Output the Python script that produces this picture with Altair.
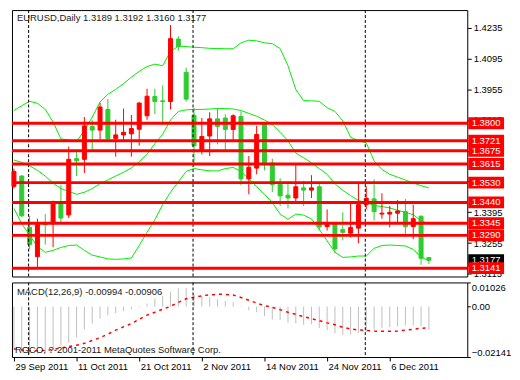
import altair as alt
import pandas as pd

# ---------------- data ----------------
open_ = [1.3513, 1.3560, 1.3326, 1.3193, 1.3343, 1.3343, 1.3434, 1.3383, 1.3639, 1.3636,
         1.3785, 1.3769, 1.3863, 1.3730, 1.3747, 1.3752, 1.3773, 1.3834, 1.3922, 1.3902,
         1.3899, 1.4183, 1.4032, 1.3836, 1.3672, 1.3742, 1.3820, 1.3824, 1.3772, 1.3831,
         1.3547, 1.3596, 1.3802, 1.3619, 1.3528, 1.3473, 1.3460, 1.3506, 1.3496, 1.3511,
         1.3330, 1.3343, 1.3316, 1.3300, 1.3323, 1.3430, 1.3456, 1.3387, 1.3387, 1.3391,
         1.3398, 1.3330, 1.3377, 1.3189]
high = [1.3594, 1.3564, 1.3378, 1.3366, 1.3387, 1.3448, 1.3521, 1.3694, 1.3677, 1.3828,
        1.3814, 1.3893, 1.3910, 1.3816, 1.3867, 1.3838, 1.3896, 1.3957, 1.3957, 1.3972,
        1.4247, 1.4196, 1.4053, 1.3871, 1.3824, 1.3850, 1.3866, 1.3841, 1.3841, 1.3853,
        1.3651, 1.3788, 1.3806, 1.3639, 1.3550, 1.3535, 1.3610, 1.3538, 1.3564, 1.3531,
        1.3408, 1.3348, 1.3395, 1.3434, 1.3525, 1.3513, 1.3545, 1.3482, 1.3424, 1.3451,
        1.3456, 1.3430, 1.3381, 1.3192]
low = [1.3503, 1.3374, 1.3226, 1.3145, 1.3248, 1.3236, 1.3352, 1.3369, 1.3560, 1.3574,
       1.3680, 1.3727, 1.3719, 1.3648, 1.3723, 1.3648, 1.3698, 1.3816, 1.3842, 1.3790,
       1.3863, 1.4130, 1.3899, 1.3604, 1.3658, 1.3651, 1.3704, 1.3672, 1.3723, 1.3518,
       1.3477, 1.3568, 1.3586, 1.3487, 1.3424, 1.3413, 1.3443, 1.3424, 1.3460, 1.3312,
       1.3312, 1.3210, 1.3268, 1.3280, 1.3254, 1.3409, 1.3357, 1.3366, 1.3326, 1.3340,
       1.3283, 1.3273, 1.3156, 1.3160]
close = [1.3581, 1.3379, 1.3249, 1.3340, 1.3338, 1.3441, 1.3369, 1.3636, 1.3629, 1.3788,
         1.3769, 1.3874, 1.3730, 1.3747, 1.3759, 1.3776, 1.3892, 1.3923, 1.3899, 1.3899,
         1.4185, 1.4149, 1.3910, 1.3698, 1.3740, 1.3820, 1.3786, 1.3772, 1.3834, 1.3547,
         1.3600, 1.3749, 1.3615, 1.3521, 1.3470, 1.3460, 1.3511, 1.3496, 1.3506, 1.3329,
         1.3340, 1.3228, 1.3304, 1.3326, 1.3430, 1.3459, 1.3398, 1.3391, 1.3395, 1.3401,
         1.3330, 1.3366, 1.3186, 1.3177]

bb_upper = [1.3858, 1.3880, 1.3900, 1.3891, 1.3863, 1.3806, 1.3729, 1.3724, 1.3716, 1.3768,
            1.3828, 1.3897, 1.3932, 1.3954, 1.3980, 1.4010, 1.4036, 1.4058, 1.4069, 1.4062,
            1.4127, 1.4151, 1.4149, 1.4146, 1.4144, 1.4141, 1.4140, 1.4139, 1.4139, 1.4166,
            1.4178, 1.4175, 1.4166, 1.4162, 1.4140, 1.4062, 1.3954, 1.3903, 1.3902, 1.3900,
            1.3871, 1.3854, 1.3811, 1.3737, 1.3720, 1.3711, 1.3629, 1.3590, 1.3568, 1.3555,
            1.3542, 1.3528, 1.3516, 1.3506]
bb_mid = [1.3633, 1.3622, 1.3607, 1.3586, 1.3560, 1.3527, 1.3503, 1.3490, 1.3477, 1.3486,
          1.3503, 1.3525, 1.3542, 1.3560, 1.3577, 1.3597, 1.3625, 1.3659, 1.3707, 1.3750,
          1.3815, 1.3854, 1.3861, 1.3863, 1.3863, 1.3865, 1.3867, 1.3867, 1.3865, 1.3858,
          1.3845, 1.3832, 1.3815, 1.3794, 1.3759, 1.3720, 1.3664, 1.3643, 1.3620, 1.3594,
          1.3568, 1.3525, 1.3495, 1.3471, 1.3449, 1.3439, 1.3426, 1.3421, 1.3415, 1.3404,
          1.3395, 1.3384, 1.3356, 1.3343]
bb_lower = [1.3413, 1.3343, 1.3291, 1.3239, 1.3213, 1.3222, 1.3235, 1.3244, 1.3246, 1.3222,
            1.3200, 1.3192, 1.3183, 1.3181, 1.3183, 1.3187, 1.3244, 1.3304, 1.3361, 1.3430,
            1.3486, 1.3534, 1.3581, 1.3594, 1.3588, 1.3584, 1.3583, 1.3594, 1.3599, 1.3581,
            1.3547, 1.3512, 1.3477, 1.3439, 1.3387, 1.3363, 1.3387, 1.3382, 1.3365, 1.3317,
            1.3265, 1.3213, 1.3190, 1.3192, 1.3196, 1.3196, 1.3231, 1.3244, 1.3246, 1.3244,
            1.3242, 1.3226, 1.3192, 1.3174]

macd_main = [-0.0180, -0.0192, -0.0200, -0.0203, -0.0196, -0.0182, -0.0166, -0.0154, -0.0131, -0.0097,
             -0.0072, -0.0051, -0.0037, -0.0028, -0.0019, -0.0011, -0.0004, 0.0013, 0.0034, 0.0046,
             0.0063, 0.0078, 0.0078, 0.0053, 0.0046, 0.0040, 0.0031, 0.0024, 0.0019, 0.0002,
             -0.0016, -0.0024, -0.0040, -0.0055, -0.0057, -0.0067, -0.0071, -0.0077, -0.0075, -0.0091,
             -0.0100, -0.0113, -0.0120, -0.0119, -0.0111, -0.0108, -0.0097, -0.0091, -0.0087, -0.0084,
             -0.0081, -0.0080, -0.0084, -0.00994]
macd_signal = [-0.0180, -0.0184, -0.0188, -0.0188, -0.0186, -0.0182, -0.0176, -0.0170, -0.0164, -0.0156,
               -0.0144, -0.0132, -0.0117, -0.0100, -0.0086, -0.0072, -0.0054, -0.0036, -0.0024, -0.0011,
               0.0001, 0.0018, 0.0033, 0.0040, 0.0046, 0.0050, 0.0052, 0.0052, 0.0049, 0.0039,
               0.0027, 0.0015, 0.0004, -0.0003, -0.0013, -0.0024, -0.0033, -0.0043, -0.0051, -0.0060,
               -0.0069, -0.0077, -0.0088, -0.0095, -0.0099, -0.0101, -0.0104, -0.0105, -0.0105, -0.0104,
               -0.0100, -0.0096, -0.0092, -0.00906]

levels = [1.3800, 1.3721, 1.3675, 1.3615, 1.3530, 1.3440, 1.3345, 1.3290, 1.3141]
price_ticks = [1.4235, 1.4095, 1.3955, 1.3815, 1.3675, 1.3535, 1.3395, 1.3255, 1.3115]
macd_ticks = [0.01026, 0.0, -0.02141]
date_tick_idx = [0, 8, 16, 24, 32, 40, 48]
date_tick_labels = ["29 Sep 2011", "11 Oct 2011", "21 Oct 2011", "2 Nov 2011",
                    "14 Nov 2011", "24 Nov 2011", "6 Dec 2011"]
month_start_idx = [2, 23, 45]
symbol = "EURUSD,Daily"
copyright_text = "RGCO, ?-2001-2011 MetaQuotes Software Corp."

# ---------------- layout / style ----------------
W, H1, H2 = 458, 268, 75
XDOM = [-0.25, 57.9]
PDOM = [1.3103, 1.4315]
MDOM = [-0.02141, 0.01026]
FONT = "Liberation Sans"
FS = 9.5
GREEN = "#2ecc2e"
RED = "#ff0000"
BAND = "#00ee00"
BOX = "M-1,-0.3333L1,-0.3333L1,0.3333L-1,0.3333Z"

n = len(close)
bars = pd.DataFrame({
    "i": list(range(n)), "open": open_, "high": high, "low": low, "close": close,
    "bbu": bb_upper, "bbm": bb_mid, "bbl": bb_lower,
    "macd": macd_main, "signal": macd_signal,
})
bars["dir"] = ["up" if c >= o else "down" for o, c in zip(open_, close)]
bars["zero"] = 0.0

levels_df = pd.DataFrame({"level": levels, "label": [f"{v:.4f}" for v in levels]})
cur_df = pd.DataFrame({"level": [close[-1]], "label": [f"{close[-1]:.4f}"]})
sep_df = pd.DataFrame({"sep": [s - 0.125 for s in month_start_idx]})
header_df = pd.DataFrame({"t": [f"{symbol}  {open_[-1]:.4f} {high[-1]:.4f} {low[-1]:.4f} {close[-1]:.4f}"]})
macd_hdr_df = pd.DataFrame({"t": [f"MACD(12,26,9) {macd_main[-1]:.5f} {macd_signal[-1]:.5f}"]})
copy_df = pd.DataFrame({"t": [copyright_text]})

xscale = alt.Scale(domain=XDOM, nice=False, zero=False, padding=0)


def X(f):
    return alt.X(f"{f}:Q", scale=xscale, axis=None, title=None)


date_expr = "".join(f"datum.value == {i} ? '{l}' : " for i, l in zip(date_tick_idx, date_tick_labels)) + "''"
date_axis = alt.Axis(values=date_tick_idx, labelExpr=date_expr, labelAlign="left", labelOffset=1,
                     tickSize=4, labelPadding=1, domain=False, grid=False, labelFlush=False,
                     labelOverlap=False, title=None)


def XM(f):
    return alt.X(f"{f}:Q", scale=xscale, axis=date_axis, title=None)


price_axis = alt.Axis(orient="right", values=price_ticks, format=".4f", tickSize=4, labelPadding=2,
                      grid=False, domain=False, title=None, labelOverlap=False)


def PY(f):
    return alt.Y(f"{f}:Q", scale=alt.Scale(domain=PDOM, nice=False, zero=False, padding=0),
                 axis=price_axis, title=None)


macd_axis = alt.Axis(orient="right", values=macd_ticks, labelFlush=True, tickSize=3, labelPadding=1,
                     labelExpr="datum.value == 0 ? '0.00' : format(datum.value, '.5f')",
                     grid=False, domain=False, title=None, labelOverlap=False)


def MY(f):
    return alt.Y(f"{f}:Q", scale=alt.Scale(domain=MDOM, nice=False, zero=False, padding=0),
                 axis=macd_axis, title=None)


col_scale = alt.Scale(domain=["up", "down"], range=[RED, GREEN])

base = alt.Chart(bars)
bands = [base.mark_line(color=BAND, strokeWidth=1).encode(x=X("i"), y=PY(f)) for f in ["bbu", "bbm", "bbl"]]
wicks = base.mark_rule(strokeWidth=1).encode(
    x=X("i"), y=PY("low"), y2="high", color=alt.Color("dir:N", scale=col_scale, legend=None))
bodies = base.mark_bar(size=4, strokeWidth=1).encode(
    x=X("i"), y=PY("open"), y2="close",
    color=alt.Color("dir:N", scale=col_scale, legend=None),
    stroke=alt.Stroke("dir:N", scale=col_scale, legend=None))
seps = alt.Chart(sep_df).mark_rule(color="black", strokeDash=[3, 2], strokeWidth=1).encode(x=X("sep"))
lvl_lines = alt.Chart(levels_df).mark_rule(color=RED, strokeWidth=3).encode(
    y=PY("level"), x=alt.value(0), x2=alt.value(W))
lvl_boxes = alt.Chart(levels_df).mark_point(shape=BOX, size=1296, filled=True, opacity=1, color=RED,
                                            strokeWidth=0).encode(x=alt.value(W + 19), y=PY("level"))
lvl_text = alt.Chart(levels_df).mark_text(color="white", font=FONT, fontSize=FS, align="center",
                                          baseline="middle").encode(
    x=alt.value(W + 19), y=PY("level"), text="label:N")
cur_box = alt.Chart(cur_df).mark_point(shape=BOX, size=1296, filled=True, opacity=1, color="black",
                                       strokeWidth=0).encode(x=alt.value(W + 19), y=PY("level"))
cur_text = alt.Chart(cur_df).mark_text(color="white", font=FONT, fontSize=FS, align="center",
                                       baseline="middle").encode(
    x=alt.value(W + 19), y=PY("level"), text="label:N")
header = alt.Chart(header_df).mark_text(color="#202020", font=FONT, fontSize=FS, align="left",
                                        baseline="middle").encode(
    x=alt.value(5), y=alt.value(8), text="t:N")

main = alt.layer(*bands, wicks, bodies, seps, lvl_lines, cur_box, cur_text, lvl_boxes, lvl_text,
                 header).properties(width=W, height=H1)

hist = base.mark_rule(color="#c0c0c0", strokeWidth=1).encode(x=XM("i"), y=MY("zero"), y2="macd")
sig = base.mark_line(color=RED, strokeDash=[3, 4], strokeWidth=1.5).encode(x=XM("i"), y=MY("signal"))
seps2 = alt.Chart(sep_df).mark_rule(color="black", strokeDash=[3, 2], strokeWidth=1).encode(x=XM("sep"))
macd_hdr = alt.Chart(macd_hdr_df).mark_text(color="#202020", font=FONT, fontSize=FS, align="left",
                                            baseline="middle").encode(
    x=alt.value(5), y=alt.value(10), text="t:N")
copy_txt = alt.Chart(copy_df).mark_text(color="#202020", font=FONT, fontSize=FS, align="left",
                                        baseline="middle").encode(
    x=alt.value(3), y=alt.value(68), text="t:N")

macd = alt.layer(hist, sig, seps2, macd_hdr, copy_txt).properties(width=W, height=H2)

chart = alt.vconcat(main, macd, spacing=2).properties(
    padding={"left": 2, "top": 0, "right": 0, "bottom": 0}, background="white"
).configure_view(stroke="black", strokeWidth=1).configure_axis(
    labelFont=FONT, labelFontSize=FS, labelColor="black", tickColor="black"
)

chart.save("out.html", embed_options={"renderer": "svg", "actions": False})
